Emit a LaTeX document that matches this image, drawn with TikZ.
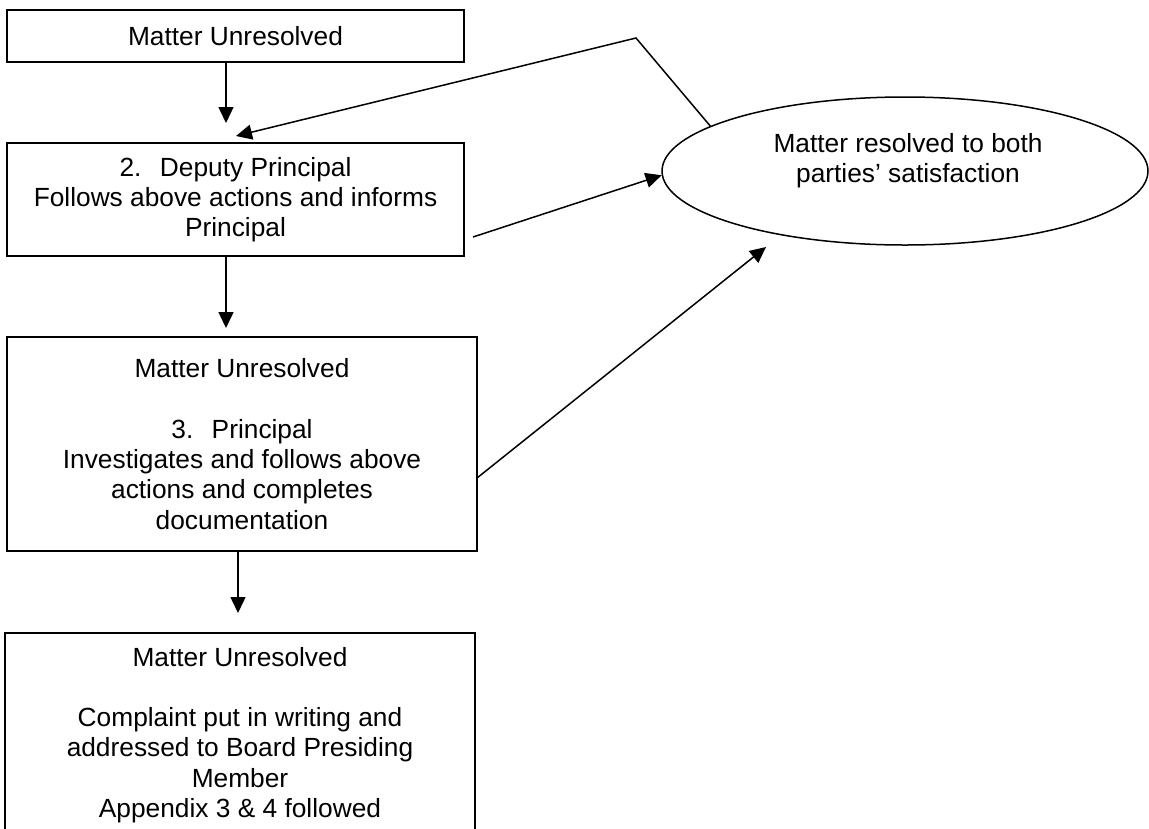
\documentclass[tikz,border=0pt]{standalone}
\usepackage{fontspec}
\setmainfont{Liberation Sans}
\usetikzlibrary{arrows.meta,shapes.geometric}
\begin{document}
\begin{tikzpicture}[x=1pt,y=-1pt,
  txt/.style={font=\fontsize{26.3}{30.3}\selectfont, align=center},
  box/.style={draw, line width=1.5pt, inner sep=0pt, txt},
  arr/.style={line width=1.5pt, -{Triangle[length=16pt,width=15pt]}}]
\clip (0,0) rectangle (1149,828);
\fill[white] (0,0) rectangle (1149,828);
\node[box, minimum width=457pt, minimum height=52pt] (top) at (235.5,36) {Matter Unresolved};
\node[box, minimum width=457pt, minimum height=113pt] (box2) at (235.5,199.5)
  {2.\hspace{0.7em}Deputy Principal\\Follows above actions and informs\\Principal};
\node[box, minimum width=470pt, minimum height=214pt] (box3) at (242,444)
  {Matter Unresolved\\[30pt]3.\hspace{0.7em}Principal\\Investigates and follows above\\actions and completes\\documentation};
\node[box, minimum width=470pt, minimum height=204pt] (box4) at (240,735)
  {Matter Unresolved\\[30pt]Complaint put in writing and\\addressed to Board Presiding\\Member\\Appendix 3 \& 4 followed};
\node[ellipse, draw, line width=1.5pt, minimum width=486pt, minimum height=148pt, inner sep=0pt] (ell) at (905,171) {};
\node[txt] (elltext) at (908,161) {Matter resolved to both\\parties’ satisfaction};
\coordinate (t1) at (226,123);
\coordinate (t2) at (226,328);
\coordinate (t3) at (238,613);
\coordinate (bend) at (636,38);
\coordinate (t4) at (236,136);
\coordinate (s5) at (473,237);
\coordinate (s6) at (477,478);
\coordinate (t6) at (766,247);
\draw[arr] (top.south -| t1) -- (t1);
\draw[arr] (box2.south -| t2) -- (t2);
\draw[arr] (box3.south -| t3) -- (t3);
\draw[arr] (ell.167) -- (bend) -- (t4);
\draw[arr] (s5) -- (ell.181);
\draw[arr] (s6) -- (t6);
\end{tikzpicture}
\end{document}
